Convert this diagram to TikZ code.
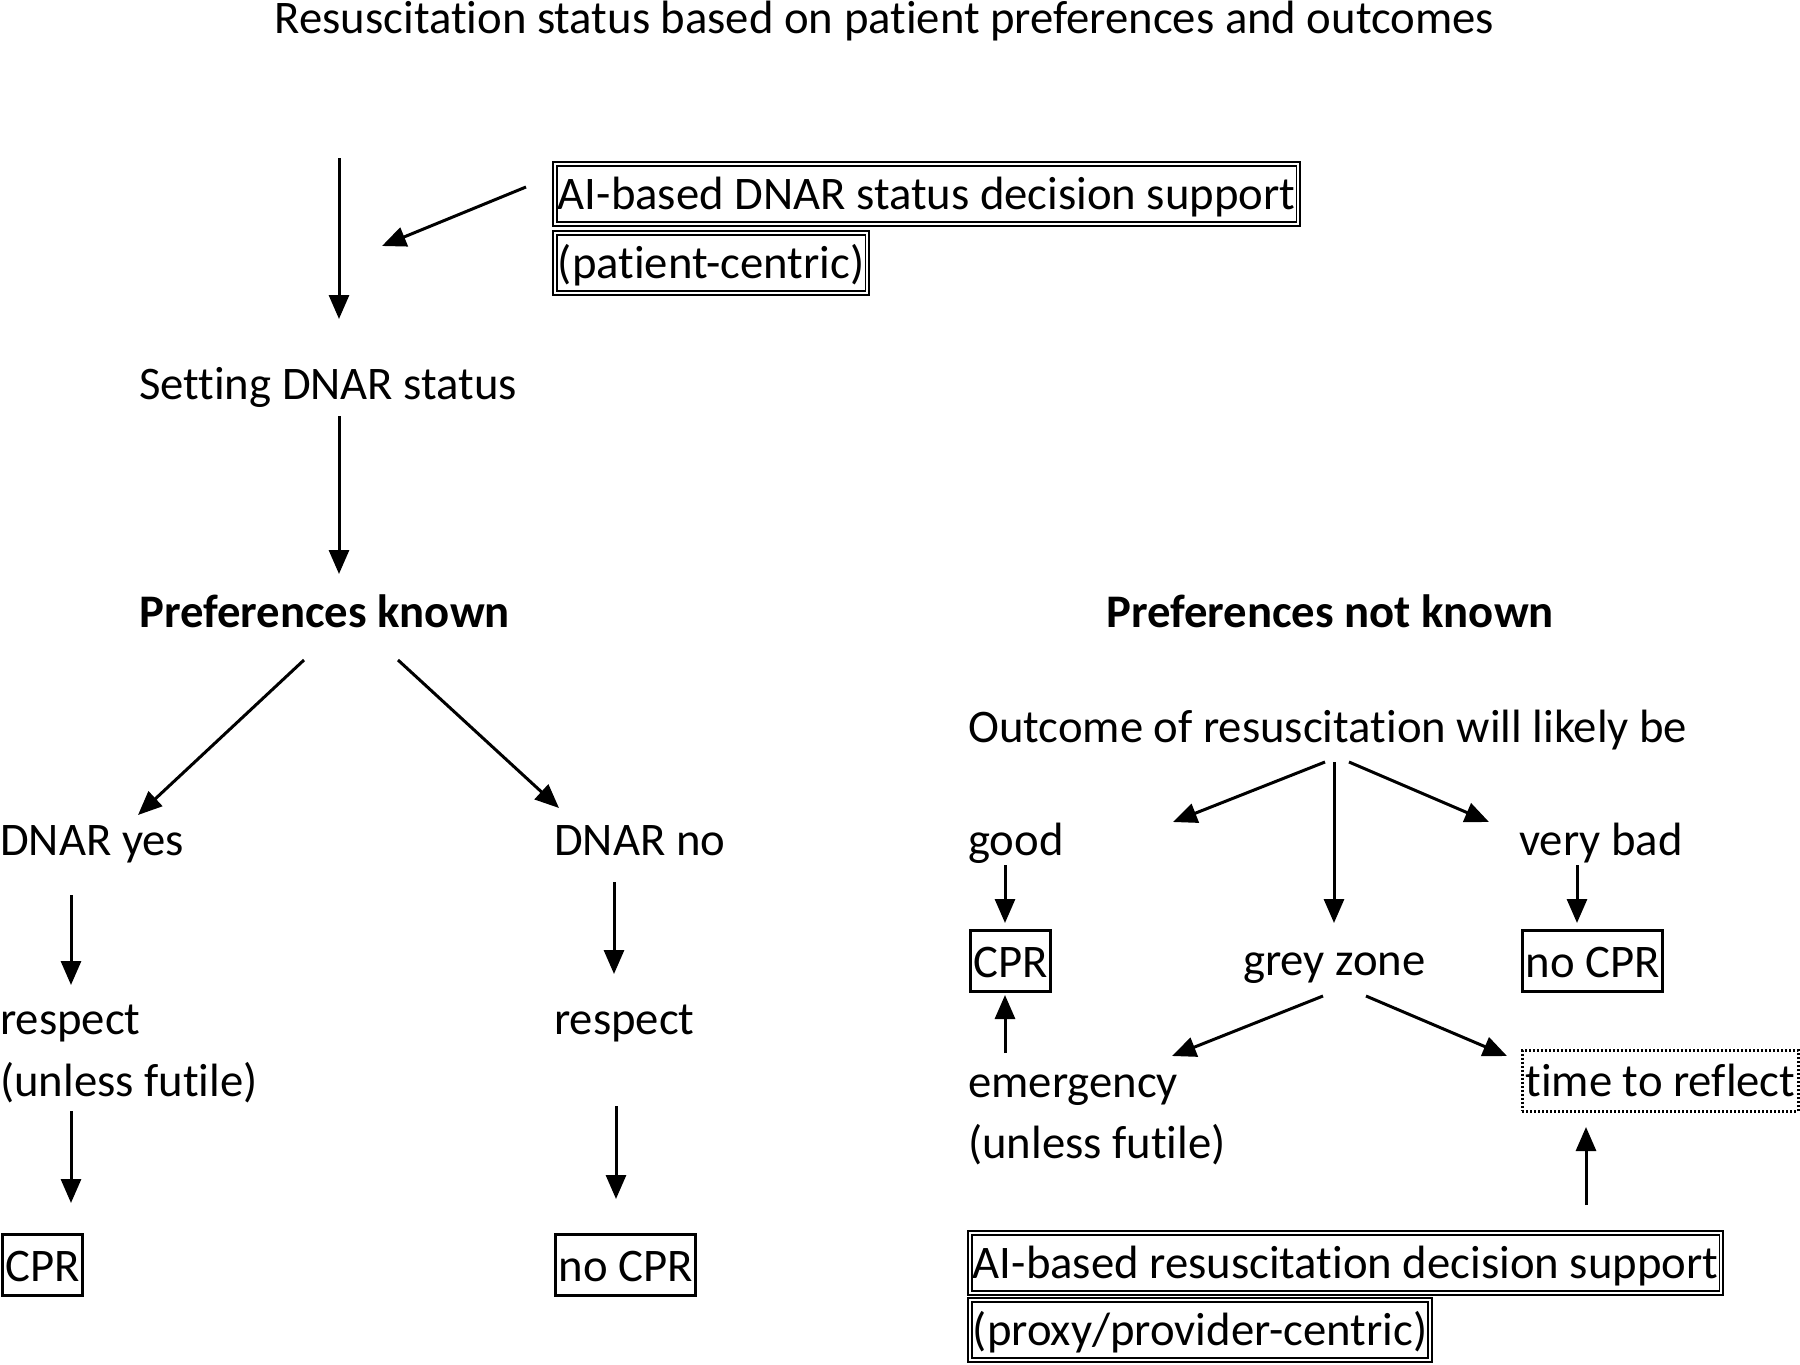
\documentclass[tikz,border=0pt]{standalone}
\usepackage{fontspec}
\setmainfont{Carlito}[Ligatures=NoCommon]
\usetikzlibrary{arrows.meta}
\newcommand{\fsz}{\fontsize{46.7}{62}\selectfont}
\begin{document}
\begin{tikzpicture}[x=1pt,y=-1pt,
  txt/.style={inner sep=0pt, anchor=base west, font=\fsz},
  boxbase/.style={inner xsep=3pt, inner ysep=5.5pt, text height=41pt, text depth=9pt, anchor=north west, font=\fsz},
  sbox/.style={boxbase, draw, line width=3pt},
  dbox/.style={boxbase, draw, line width=1.8pt, double, double distance=2pt, inner ysep=5pt},
  dotbox/.style={boxbase, draw, line width=2.8pt, dash pattern=on 2pt off 2pt},
  arr/.style={line width=3pt, -{Triangle[length=24pt,width=20pt]}}]
\useasboundingbox (0,0) rectangle (1800,1365);
\fill[white] (0,0) rectangle (1800,1365);

% texts
\node[inner sep=0pt, anchor=base, font=\fsz] (title) at (884.5,34) {Resuscitation status based on patient preferences and outcomes};
\node[txt] (setting) at (139,399) {Setting DNAR status};
\node[txt, font=\fsz\bfseries] (prefk) at (139,627) {Preferences known};
\node[txt, font=\fsz\bfseries] (prefnk) at (1106,627) {Preferences not known};
\node[txt] (dyes) at (0,855) {DNAR yes};
\node[txt] (dno) at (554,855) {DNAR no};
\node[txt] (respL) at (0,1034) {respect};
\node[txt] (respL2) at (0,1096) {(unless futile)};
\node[txt] (respR) at (554,1034) {respect};
\node[txt] (outcome) at (968,742) {Outcome of resuscitation will likely be};
\node[txt] (good) at (968,855) {good};
\node[txt] (vbad) at (1519,855) {very bad};
\node[txt] (grey) at (1243,975) {grey zone};
\node[txt] (emerg) at (968,1097) {emergency};
\node[txt] (emerg2) at (968,1158) {(unless futile)};

% boxes
\node[dbox] (aidnar) at (554,163) {AI-based DNAR status decision support};
\node[dbox] (patient) at (554,232) {(patient-centric)};
\node[sbox] (cprL) at (1,1233) {CPR};
\node[sbox] (nocprL) at (554,1233) {no CPR};
\node[sbox] (cprR) at (969,929) {CPR};
\node[sbox] (nocprR) at (1521,929) {no CPR};
\node[dotbox] (reflect) at (1521,1049) {time to reflect};
\node[dbox] (aires) at (969,1232) {AI-based resuscitation decision support};
\node[dbox] (proxy) at (969,1299) {(proxy/provider-centric)};

% connector end points
\coordinate (start) at (339,158);
\coordinate (setIn) at (339,319);
\coordinate (aiOut) at (526,187);
\coordinate (lineIn) at (382,246);
\coordinate (setOut) at (339,416);
\coordinate (prefIn) at (339,574);
\coordinate (pkL) at (304,660);
\coordinate (dyesIn) at (138,815);
\coordinate (pkR) at (398,660);
\coordinate (dnoIn) at (559,808);
\coordinate (dyesOut) at (71,895);
\coordinate (respLIn) at (71,985);
\coordinate (respLOut) at (71,1111);
\coordinate (cprLIn) at (71,1203);
\coordinate (dnoOut) at (614,882);
\coordinate (respRIn) at (614,974);
\coordinate (respROut) at (616,1106);
\coordinate (nocprLIn) at (616,1199);
\coordinate (outL) at (1325,762);
\coordinate (goodIn) at (1173,822);
\coordinate (outC) at (1334,762);
\coordinate (greyIn) at (1334,923);
\coordinate (outR) at (1349,762);
\coordinate (vbadIn) at (1489,822);
\coordinate (goodOut) at (1005,865);
\coordinate (cprRIn) at (1005,923);
\coordinate (vbadOut) at (1577,865);
\coordinate (nocprRIn) at (1577,923);
\coordinate (greyL) at (1323,996);
\coordinate (emergIn) at (1172,1056);
\coordinate (greyR) at (1366,996);
\coordinate (reflIn) at (1507,1056);
\coordinate (emergOut) at (1005,1053);
\coordinate (cprRUp) at (1005,995);
\coordinate (airesOut) at (1586,1205);
\coordinate (reflUp) at (1586,1127);

% connectors
\draw[arr] (start) -- (setIn);
\draw[arr] (aiOut) -- (lineIn);
\draw[arr] (setOut) -- (prefIn);
\draw[arr] (pkL) -- (dyesIn);
\draw[arr] (pkR) -- (dnoIn);
\draw[arr] (dyesOut) -- (respLIn);
\draw[arr] (respLOut) -- (cprLIn);
\draw[arr] (dnoOut) -- (respRIn);
\draw[arr] (respROut) -- (nocprLIn);
\draw[arr] (outL) -- (goodIn);
\draw[arr] (outC) -- (greyIn);
\draw[arr] (outR) -- (vbadIn);
\draw[arr] (goodOut) -- (cprRIn);
\draw[arr] (vbadOut) -- (nocprRIn);
\draw[arr] (greyL) -- (emergIn);
\draw[arr] (greyR) -- (reflIn);
\draw[arr] (emergOut) -- (cprRUp);
\draw[arr] (airesOut) -- (reflUp);
\end{tikzpicture}
\end{document}
